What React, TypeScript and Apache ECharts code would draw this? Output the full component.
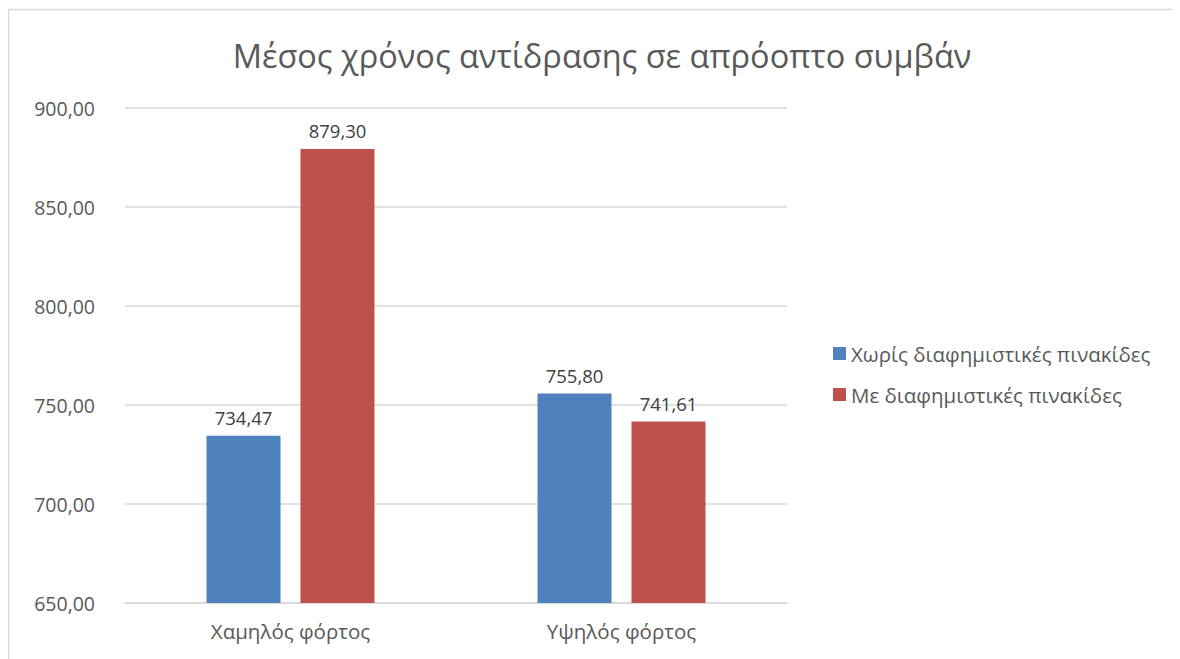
import React, { useEffect, useRef } from "react";
import * as echarts from "echarts";

const categories = ["Χαμηλός φόρτος", "Υψηλός φόρτος"];
const seriesNames = ["Χωρίς διαφημιστικές πινακίδες", "Με διαφημιστικές πινακίδες"];
const withoutSigns = [734.47, 755.8];
const withSigns = [879.3, 741.61];
const colors = ["#4F81BD", "#C0504D"];

const fmt = (v: number) => v.toFixed(2).replace(".", ",");
const FONT = "'Open Sans', 'Noto Sans', sans-serif";

export default function App() {
  const ref = useRef<HTMLDivElement>(null);
  useEffect(() => {
    const chart = echarts.init(ref.current!, null, { renderer: "svg" });
    chart.setOption({
      animation: false,
      backgroundColor: "#ffffff",
      textStyle: { fontFamily: FONT },
      title: {
        text: "Μέσος χρόνος αντίδρασης σε απρόοπτο συμβάν",
        left: 589,
        top: 26,
        textAlign: "center",
        textStyle: { fontSize: 32.5, fontWeight: "normal", color: "#595959", fontFamily: FONT },
      },
      graphic: [
        {
          type: "rect",
          shape: { x: 0.5, y: 1.5, width: 1171, height: 700 },
          style: { fill: "none", stroke: "#d9d9d9", lineWidth: 1.5 },
          silent: true,
        },
      ],
      legend: {
        orient: "vertical",
        left: 820,
        top: 330,
        itemWidth: 13,
        itemHeight: 13,
        itemGap: 20,
        icon: "rect",
        textStyle: { fontSize: 20.5, color: "#595959", fontFamily: FONT },
        data: seriesNames,
      },
      grid: { left: 117, right: 393, top: 100, bottom: 56, containLabel: false },
      xAxis: {
        type: "category",
        data: categories,
        axisTick: { show: false },
        axisLine: { lineStyle: { color: "#d9d9d9", width: 1.5 } },
        axisLabel: { fontSize: 20.5, color: "#595959", margin: 17, fontFamily: FONT },
      },
      yAxis: {
        type: "value",
        min: 650,
        max: 900,
        interval: 50,
        axisLine: { show: false },
        axisTick: { show: false },
        splitLine: { lineStyle: { color: "#d9d9d9", width: 1.5 } },
        axisLabel: { fontSize: 19.5, color: "#595959", margin: 30, formatter: (v: number) => fmt(v), fontFamily: FONT },
      },
      series: [
        {
          name: seriesNames[0],
          type: "bar",
          data: withoutSigns,
          barWidth: 74,
          barGap: "27%",
          itemStyle: { color: colors[0] },
          label: { show: true, position: "top", distance: 9, fontSize: 18.5, color: "#404040", formatter: (p: any) => fmt(p.value), fontFamily: FONT },
        },
        {
          name: seriesNames[1],
          type: "bar",
          data: withSigns,
          barWidth: 74,
          barGap: "27%",
          itemStyle: { color: colors[1] },
          label: { show: true, position: "top", distance: 9, fontSize: 18.5, color: "#404040", formatter: (p: any) => fmt(p.value), fontFamily: FONT },
        },
      ],
    });
    return () => chart.dispose();
  }, []);
  return <div ref={ref} style={{ width: 1172, height: 651 }} />;
}
